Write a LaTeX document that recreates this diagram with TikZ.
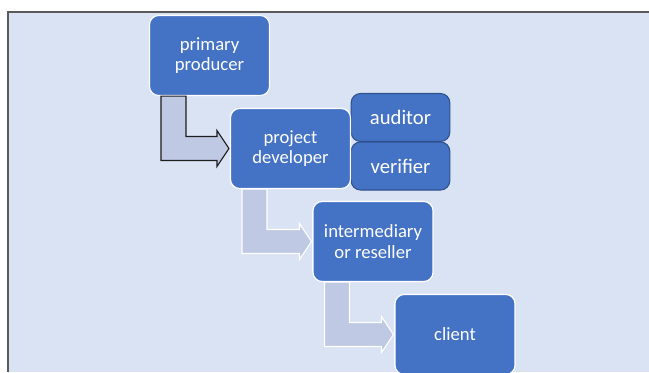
\documentclass[tikz,border=0pt]{standalone}
\usepackage{fontspec}
\setmainfont{Carlito}
\usetikzlibrary{calc}

\definecolor{panelbg}{RGB}{218,227,243}
\definecolor{boxblue}{RGB}{68,114,196}
\definecolor{boxedge}{RGB}{47,82,143}
\definecolor{flowfill}{RGB}{192,201,227}

\tikzset{every picture/.style={line width=0.75pt}}
\tikzset{
  stage/.style={draw=white, line width=0.8pt, fill=boxblue, rounded corners=7pt,
    minimum width=90pt, minimum height=60pt, inner sep=0.75pt, align=center,
    text=white, font=\fontsize{14}{15.5}\selectfont},
  checker/.style={stage, draw=boxedge, minimum width=74pt, minimum height=36pt,
    font=\fontsize{15.5}{17}\selectfont},
  flow/.style={fill=flowfill, draw=white, line width=0.8pt, line join=miter}
}

% bent block arrow: down out of #2, then right into #3
\newcommand{\bentflow}[3][]{%
  \coordinate (fs) at (#2.south west);
  \coordinate (ft) at (#3.west);
  \path[flow,#1] ($(fs)+(12,0)$) -- ($(fs)+(37,0)$) -- ($(fs|-ft)+(37,-12)$)
    -- ($(ft)+(-13,-12)$) -- ($(ft)+(-13,-18)$) -- ($(ft)+(-1,0)$)
    -- ($(ft)+(-13,18)$) -- ($(ft)+(-13,12)$) -- ($(fs|-ft)+(12,12)$) -- cycle;}

\begin{document}
\begin{tikzpicture}[x=0.75pt,y=0.75pt,yscale=-1,xscale=1]
        \useasboundingbox (0,0) rectangle (649,372);

        % panel
        \fill [panelbg] (8,12) rectangle (649,372);
        \draw [color={rgb, 255:red, 90; green, 90; blue, 90 }, line width=1.2pt] (8,372) -- (8,12) -- (649,12);

        % Stages
        \node [stage] (producer) at (209.5,55.5) {primary\\producer};
        \node [stage] (developer) at (290.5,148.5) {project\\developer};
        \node [stage] (reseller) at (373,241.5) {intermediary\\or reseller};
        \node [stage] (client) at (455,334.5) {client};
        % Checkers
        \node [checker] (auditor) at (400.5,117.5) {auditor};
        \node [checker] (verifier) at (400.5,166) {verifier};

        % Flows
        \bentflow[draw={rgb, 255:red, 30; green, 30; blue, 30 }]{producer}{developer}
        \bentflow{developer}{reseller}
        \bentflow{reseller}{client}

        % stages again on top of the arrow tips
        \node [stage] at (developer) {project\\developer};
        \node [stage] at (reseller) {intermediary\\or reseller};
        \node [stage] at (client) {client};

\end{tikzpicture}
\end{document}
